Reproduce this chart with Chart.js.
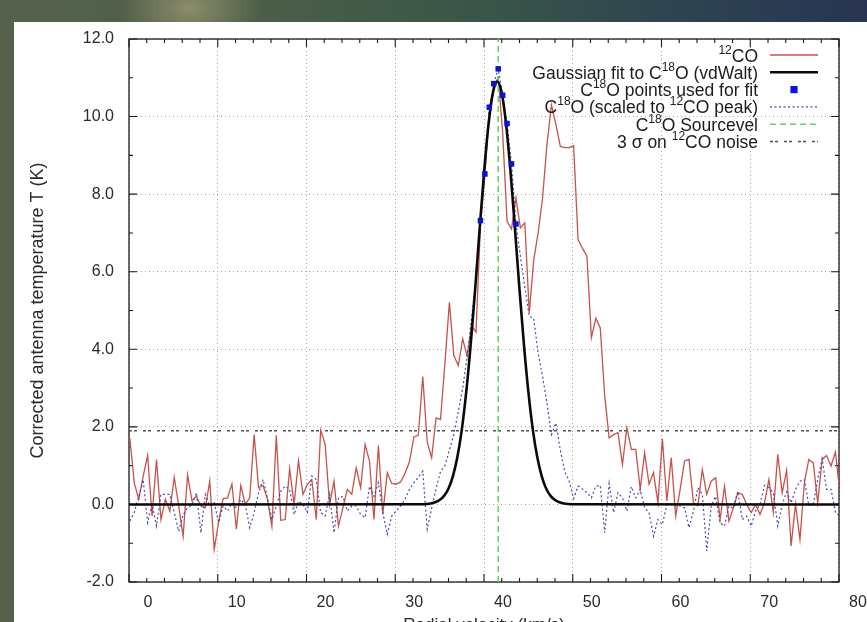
<!DOCTYPE html>
<html><head><meta charset="utf-8">
<script src="https://cdn.jsdelivr.net/npm/chart.js@4.4.0/dist/chart.umd.min.js"></script>
<style>
html,body{margin:0;padding:0;width:867px;height:622px;overflow:hidden;}
body{position:relative;background:
 radial-gradient(ellipse 70px 45px at 190px 8px, rgba(150,148,112,0.85), rgba(150,148,112,0) 100%),
 linear-gradient(90deg,#56614d 0%,#4c5e49 30%,#3a5648 55%,#2f4650 75%,#283452 100%);}
#panel{position:absolute;left:14px;top:22px;width:853px;height:600px;background:#fff;}
#wrap{position:absolute;left:0;top:0;width:867px;height:660px;}
</style></head>
<body>
<div id="panel"></div>
<div id="wrap"><canvas id="c" width="867" height="660"></canvas></div>
<script>
// ---- DATA ----
const velocity = [0.1,0.6,1.1,1.6,2.1,2.6,3.1,3.6,4.1,4.6,5.1,5.6,6.1,6.6,7.1,7.6,8.1,8.6,9.1,9.6,
10.1,10.6,11.1,11.6,12.1,12.6,13.1,13.6,14.1,14.6,15.1,15.6,16.1,16.6,17.1,17.6,18.1,18.6,19.1,19.6,
20.1,20.6,21.1,21.6,22.1,22.6,23.1,23.6,24.1,24.6,25.1,25.6,26.1,26.6,27.1,27.6,28.1,28.6,29.1,29.6,
30.1,30.6,31.1,31.6,32.1,32.6,33.1,33.6,34.1,34.6,35.1,35.6,36.1,36.6,37.1,37.6,38.1,38.6,39.1,39.6,
40.1,40.6,41.1,41.6,42.1,42.6,43.1,43.6,44.1,44.6,45.1,45.6,46.1,46.6,47.1,47.6,48.1,48.6,49.1,49.6,
50.1,50.6,51.1,51.6,52.1,52.6,53.1,53.6,54.1,54.6,55.1,55.6,56.1,56.6,57.1,57.6,58.1,58.6,59.1,59.6,
60.1,60.6,61.1,61.6,62.1,62.6,63.1,63.6,64.1,64.6,65.1,65.6,66.1,66.6,67.1,67.6,68.1,68.6,69.1,69.6,
70.1,70.6,71.1,71.6,72.1,72.6,73.1,73.6,74.1,74.6,75.1,75.6,76.1,76.6,77.1,77.6,78.1,78.6,79.1,79.6,80.1];

const co12 = [1.7,0.55,0.13,0.73,1.26,-0.3,1.16,-0.39,0.13,-0.17,0.70,-0.04,-0.82,0.76,0.09,0.21,-0.04,-0.09,0.6,-1.16,
-0.45,0.15,0.17,0.53,-0.64,0.49,0.0,0.17,1.8,0.43,0.49,0.13,-0.56,1.78,-0.41,-0.39,0.92,0.0,1.13,0.26,
0.52,0.64,-0.39,1.92,1.55,0.0,0.6,-0.56,-0.09,0.39,0.26,0.94,0.43,1.55,1.12,-0.39,1.52,-0.25,0.82,0.54,
0.52,0.58,0.8,1.1,1.74,1.78,3.3,1.61,1.2,2.23,2.19,3.65,5.21,3.84,3.58,4.27,3.82,4.61,4.44,7.2,
8.5,10.1,10.8,11.0,9.6,7.3,7.1,7.9,7.13,7.26,4.94,6.3,7.0,7.9,9.3,10.3,9.8,9.23,9.2,9.2,
9.25,6.83,6.6,6.4,4.3,4.8,4.55,2.8,1.72,1.8,1.85,1.03,1.98,1.42,1.42,0.39,1.33,0.52,0.82,0.04,
1.69,0.09,1.2,-0.3,0.39,1.12,1.16,0.04,-0.03,0.9,0.26,0.6,0.69,-0.39,0.47,-0.43,-0.09,0.3,0.26,0.0,
-0.21,0.0,-0.26,0.04,0.64,-0.21,1.29,0.3,0.88,-1.07,0.0,-0.9,0.56,1.16,1.07,0.04,1.16,1.26,0.99,1.35,0.3];

const c18oScaled = [-0.43,-0.2,0.2,0.64,-0.47,0.0,-0.56,0.26,0.26,0.26,-0.21,-0.69,-0.26,-0.09,0.0,0.3,-0.73,0.26,-0.04,0.04,
-0.47,-0.04,-0.17,0.04,-0.09,0.13,0.0,-0.6,-0.21,0.3,0.64,0.17,-0.39,-0.04,0.34,0.47,0.39,-0.26,0.09,0.0,
-0.21,0.73,0.64,-0.21,-0.3,0.26,-0.73,0.17,0.21,-0.17,-0.04,-0.04,-0.26,-0.34,0.47,0.21,0.56,-0.21,-0.77,-0.3,
-0.17,-0.04,0.13,0.39,0.56,0.7,0.86,-0.64,-0.1,0.4,0.85,1.0,1.4,1.8,2.4,3.0,3.8,4.8,5.8,7.32,
8.52,10.24,10.85,11.23,10.55,9.82,8.78,7.23,6.4,5.6,4.85,4.8,3.9,3.3,2.6,1.8,2.1,1.4,0.85,0.6,
0.15,0.47,0.4,0.3,0.17,0.47,0.49,-0.73,0.54,-0.21,0.3,0.17,-0.17,0.46,0.17,0.39,-0.09,-0.21,-0.82,-0.39,
-0.52,0.0,0.0,-0.04,-0.04,-0.09,-0.6,-0.17,0.43,0.26,-1.2,-0.04,0.21,-0.47,-0.56,-0.04,-0.1,0.34,-0.39,-0.3,
-0.56,-0.17,0.0,0.49,0.43,0.3,-0.56,0.0,0.32,0.04,0.39,0.6,0.64,-0.03,0.0,0.64,1.18,0.39,0.39,-0.21,-0.3];

const fitPointVel = [39.6,40.1,40.6,41.1,41.6,42.1,42.6,43.1,43.6];
const fitPointTemp = [7.32,8.52,10.24,10.85,11.23,10.55,9.82,8.78,7.23];

const gaussVel = [0,33,33.5,34,34.5,35,35.5,36,36.5,37,37.5,38,38.5,39,39.5,40,40.5,41,41.5,
42,42.5,43,43.5,44,44.5,45,45.5,46,46.5,47,47.5,48,48.5,49,49.5,50,80];
const gaussTemp = [0,0.004,0.011,0.025,0.054,0.113,0.22,0.41,0.73,1.22,1.93,2.90,4.12,5.54,7.07,8.55,9.78,10.61,10.9,
10.61,9.78,8.55,7.07,5.54,4.12,2.90,1.93,1.22,0.73,0.41,0.22,0.113,0.054,0.025,0.011,0.004,0];

const sourceVel = 41.6;
const noise3Sigma = 1.9;

const xTicks = [0,10,20,30,40,50,60,70,80];
const yTicks = [-2,0,2,4,6,8,10,12];

const FONT = "'Liberation Sans', Arial, Helvetica, sans-serif";

const pts = (xs, ys) => xs.map((x, i) => ({x, y: ys[i]}));

const datasets = [
  {label:'C18O points used for fit', data: pts(fitPointVel, fitPointTemp), showLine:false,
   pointStyle:'rect', pointRadius:3.9, backgroundColor:'#0a14d8', borderColor:'#0a14d8', borderWidth:0, order:0},
  {label:'Gaussian fit to C18O (vdWalt)', data: pts(gaussVel, gaussTemp), borderColor:'#0a0a0a', borderWidth:2.6,
   pointRadius:0, cubicInterpolationMode:'monotone', order:1},
  {label:'C18O Sourcevel', data:[{x:sourceVel,y:-2},{x:sourceVel,y:12}], borderColor:'#5fd25f', borderWidth:1.5,
   borderDash:[6,4], pointRadius:0, order:2},
  {label:'C18O (scaled to 12CO peak)', data: pts(velocity, c18oScaled), borderColor:'#4a4aa6', borderWidth:1.2,
   borderDash:[2,2.5], pointRadius:0, order:3},
  {label:'12CO', data: pts(velocity, co12), borderColor:'#c4534c', borderWidth:1.3, pointRadius:0, order:4},
  {label:'3 sigma on 12CO noise', data:[{x:0,y:noise3Sigma},{x:80,y:noise3Sigma}], borderColor:'#505050', borderWidth:1.3,
   borderDash:[3,2,3,6], pointRadius:0, order:5}
];

// legend rows: [text, superscript?]
const legendRows = [
  {parts:[['12',1],['CO',0]], ds:4},
  {parts:[['Gaussian fit to C',0],['18',1],['O (vdWalt)',0]], ds:1},
  {parts:[['C',0],['18',1],['O points used for fit',0]], ds:0},
  {parts:[['C',0],['18',1],['O (scaled to ',0],['12',1],['CO peak)',0]], ds:3},
  {parts:[['C',0],['18',1],['O Sourcevel',0]], ds:2},
  {parts:[['3 \u03c3 on ',0],['12',1],['CO noise',0]], ds:5}
];

const framePlugin = {
  id:'frame',
  beforeDatasetsDraw(chart){
    const {ctx, chartArea:a, scales:{x, y}} = chart;
    ctx.save();
    ctx.strokeStyle = '#1a1a1a'; ctx.lineWidth = 1.3; ctx.setLineDash([]);
    ctx.strokeRect(a.left, a.top, a.right - a.left, a.bottom - a.top);
    ctx.lineWidth = 1.1;
    ctx.beginPath();
    for (let i = 0; i < xTicks.length; i++) {
      const v = xTicks[i], px = x.getPixelForValue(v);
      ctx.moveTo(px, a.bottom); ctx.lineTo(px, a.bottom - 8);
      ctx.moveTo(px, a.top); ctx.lineTo(px, a.top + 8);
      if (i < xTicks.length - 1) {
        const step = (xTicks[i+1] - v) / 5;
        for (let k = 1; k < 5; k++) {
          const mx = x.getPixelForValue(v + k * step);
          ctx.moveTo(mx, a.bottom); ctx.lineTo(mx, a.bottom - 4);
          ctx.moveTo(mx, a.top); ctx.lineTo(mx, a.top + 4);
        }
      }
    }
    for (let i = 0; i < yTicks.length; i++) {
      const v = yTicks[i], py = y.getPixelForValue(v);
      ctx.moveTo(a.left, py); ctx.lineTo(a.left + 8, py);
      ctx.moveTo(a.right, py); ctx.lineTo(a.right - 8, py);
      if (i < yTicks.length - 1) {
        const my = y.getPixelForValue((v + yTicks[i+1]) / 2);
        ctx.moveTo(a.left, my); ctx.lineTo(a.left + 4, my);
        ctx.moveTo(a.right, my); ctx.lineTo(a.right - 4, my);
      }
    }
    ctx.stroke();
    ctx.restore();
  }
};

const legendPlugin = {
  id:'gpLegend',
  afterDraw(chart){
    const ctx = chart.ctx;
    const rightX = 758, y0 = 55, dy = 17.3;
    const mainF = "17.5px " + FONT, supF = "12px " + FONT;
    ctx.save();
    legendRows.forEach((row, r) => {
      const cy = y0 + r * dy;
      const base = cy + 6.5;
      let w = 0;
      row.parts.forEach(([t, s]) => { ctx.font = s ? supF : mainF; w += ctx.measureText(t).width; });
      let xx = rightX - w;
      ctx.fillStyle = '#1c1c1c'; ctx.textBaseline = 'alphabetic'; ctx.textAlign = 'left';
      row.parts.forEach(([t, s]) => {
        ctx.font = s ? supF : mainF;
        ctx.fillText(t, xx, s ? base - 8 : base);
        xx += ctx.measureText(t).width;
      });
      const ds = chart.data.datasets[row.ds];
      if (ds.showLine === false) {
        ctx.fillStyle = ds.backgroundColor;
        ctx.fillRect(794 - 3.6, cy - 3.6, 7.2, 7.2);
      } else {
        ctx.strokeStyle = ds.borderColor; ctx.lineWidth = ds.borderWidth;
        ctx.setLineDash(ds.borderDash || []);
        ctx.beginPath(); ctx.moveTo(770, cy); ctx.lineTo(818, cy); ctx.stroke();
        ctx.setLineDash([]);
      }
    });
    ctx.restore();
  }
};

new Chart(document.getElementById('c'), {
  type:'line',
  data:{datasets},
  options:{
    responsive:false, animation:false,
    layout:{padding:{left:0, right:28, top:39, bottom:0}},
    plugins:{legend:{display:false}, tooltip:{enabled:false}},
    scales:{
      x:{type:'linear', min:0, max:80,
        afterFit(s){ s.height = 78; },
        afterBuildTicks(s){ s.ticks = xTicks.map(v => ({value:v})); },
        ticks:{labelOffset:19, padding:11, color:'#2a2a2a', font:{family:FONT, size:16}, maxRotation:0, autoSkip:false},
        grid:{color:'#a8a8a8', lineWidth:1, drawTicks:false},
        border:{display:false, dash:[1,3]},
        title:{display:true, text:'Radial velocity (km/s)', color:'#2a2a2a', font:{family:FONT, size:17}, padding:{top:0, bottom:24}}
      },
      y:{min:-2, max:12,
        afterFit(s){ s.width = 129; },
        afterBuildTicks(s){ s.ticks = yTicks.map(v => ({value:v})); },
        ticks:{padding:15, color:'#2a2a2a', font:{family:FONT, size:16}, callback:v => Number(v).toFixed(1)},
        grid:{color:'#a8a8a8', lineWidth:1, drawTicks:false},
        border:{display:false, dash:[1,3]},
        title:{display:true, text:'Corrected antenna temperature T (K)', color:'#2a2a2a', font:{family:FONT, size:18}, padding:{top:27, bottom:0}}
      }
    }
  },
  plugins:[framePlugin, legendPlugin]
});
</script>
</body></html>
